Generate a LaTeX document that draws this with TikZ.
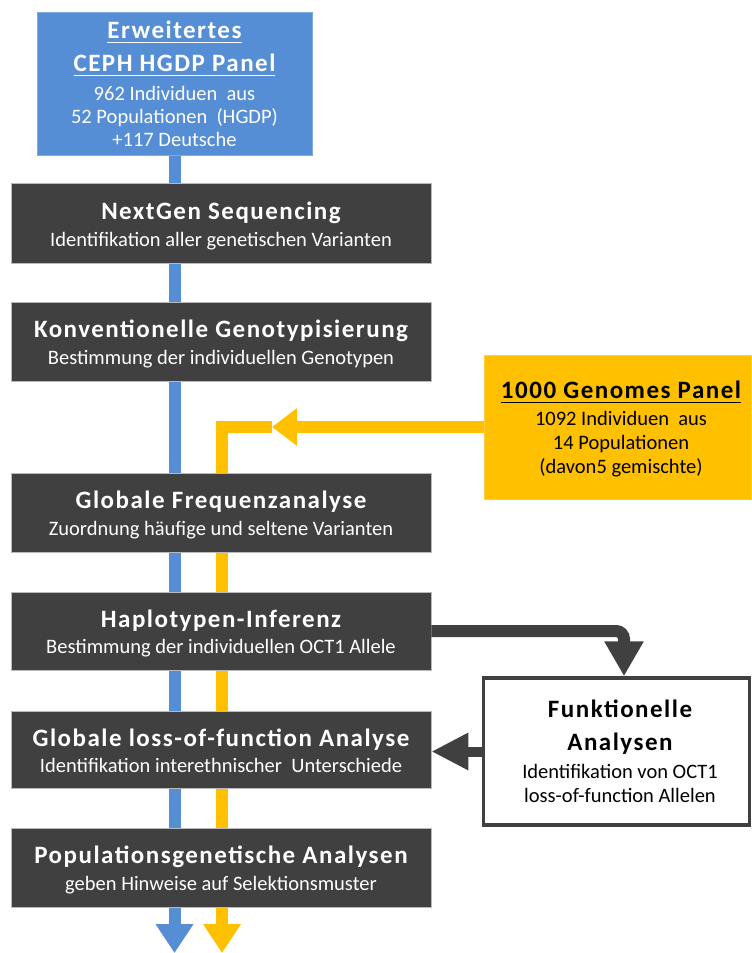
\documentclass[tikz,border=0pt]{standalone}
\usepackage{fontspec}
\setmainfont{Carlito}
\newfontfamily\hdfam{Carlito}[LetterSpace=6]
\usetikzlibrary{arrows.meta,calc}
\pgfdeclarelayer{bg}
\pgfsetlayers{bg,main}
\definecolor{dgrey}{HTML}{404040}
\definecolor{pblue}{HTML}{558ED5}
\definecolor{pyel}{HTML}{FFC000}
\newcommand{\ulx}[1]{\setbox0=\hbox{#1}\rlap{\rule[-5pt]{\wd0}{1.5pt}}\box0}
\tikzset{
  darkbox/.style={draw=gray!55, line width=0.8pt, fill=dgrey, minimum width=420pt, inner sep=0pt},
  bluebox/.style={draw=pblue!75!white, line width=0.8pt, fill=pblue, minimum width=275pt, minimum height=143pt, inner sep=0pt},
  yelbox/.style={draw=pyel!75!white, line width=0.8pt, fill=pyel, minimum width=267pt, minimum height=144pt, inner sep=0pt},
  funkbox/.style={draw=dgrey, line width=3.5pt, fill=white, minimum width=266pt, minimum height=147pt, inner sep=0pt},
  hd/.style={font=\fontsize{25}{27}\hdfam\bfseries, inner sep=0pt, anchor=base},
  sb/.style={font=\fontsize{20.5}{23}\selectfont, inner sep=0pt, anchor=base},
  flow/.style={line width=12pt},
  endtip/.style={-{Triangle[length=29pt,width=36pt]}}
}
\begin{document}
\begin{tikzpicture}[x=1pt,y=-1pt]
\useasboundingbox (0,0) rectangle (752,953);
% boxes
\node[bluebox] (blue) at (174.5,83.5) {};
\node[darkbox, minimum height=80pt] (nextgen) at (221,223) {};
\node[darkbox, minimum height=79pt] (konv) at (221,341.5) {};
\node[yelbox] (ypanel) at (617.5,427) {};
\node[darkbox, minimum height=79pt] (gfreq) at (221,512.5) {};
\node[darkbox, minimum height=78pt] (haplo) at (221,631) {};
\node[darkbox, minimum height=77pt] (gloss) at (221,749.5) {};
\node[funkbox] (funk) at (616.5,751.5) {};
\node[darkbox, minimum height=79pt] (pop) at (221,867.5) {};
% coordinates
\coordinate (bot) at (0,953);
\coordinate (ytip) at (272,427);
\coordinate (ycorner) at (222,427);
\coordinate (ybot) at (222,953);
\coordinate (fk) at ($(funk.north)+(7.5,0)$);
% flow lines behind boxes
\begin{pgfonlayer}{bg}
\draw[pblue, flow, endtip] (blue.south) -- (blue.south |- bot);
\draw[pyel, flow, -{Triangle[length=25pt,width=36pt]}] (ypanel.west) -- (ytip);
\draw[pyel, flow, line join=miter, endtip] (ytip) -- (ycorner) -- (ybot);
\end{pgfonlayer}
% dark connectors
\draw[dgrey, line width=12pt, rounded corners=8pt, -{Triangle[length=35pt,width=37pt]}] (haplo.east) -| (fk);
\draw[dgrey, line width=10pt, -{Triangle[length=37pt,width=35pt]}] (funk.west) -- (funk.west -| gloss.east);
% blue panel text
\node[hd, text=white] (blueA) at (174.5,38) {\ulx{Erweitertes}};
\node[hd, text=white] (blueB) at (174.5,71) {\ulx{CEPH HGDP Panel}};
\node[sb, text=white] (blueC) at (174.5,100) {962 Individuen\ \ aus};
\node[sb, text=white] (blueD) at (174.5,123) {52 Populationen\ \ (HGDP)};
\node[sb, text=white] (blueE) at (174.5,146) {+117 Deutsche};
% yellow panel text
\node[hd] (yelA) at (621,398) {\ulx{1000 Genomes Panel}};
\node[sb] (yelB) at (621,425) {1092 Individuen\ \ aus};
\node[sb] (yelC) at (621,449) {14 Populationen};
\node[sb] (yelD) at (621,473) {(davon5 gemischte)};
% functional box text
\node[hd] (funkA) at (620,717) {Funktionelle};
\node[hd] (funkB) at (620,750) {Analysen};
\node[sb] (funkC) at (620,778) {Identifikation von OCT1};
\node[sb] (funkD) at (620,802) {loss-of-function Allelen};
% dark box texts
\node[hd, text=white, yshift=4pt] (nextgenA) at (nextgen.center) {NextGen Sequencing};
\node[sb, text=white, yshift=-23pt] (nextgenB) at (nextgen.center) {Identifikation aller genetischen Varianten};
\node[hd, text=white, yshift=4pt] (konvA) at (konv.center) {Konventionelle Genotypisierung};
\node[sb, text=white, yshift=-23pt] (konvB) at (konv.center) {Bestimmung der individuellen Genotypen};
\node[hd, text=white, yshift=4pt] (gfreqA) at (gfreq.center) {Globale Frequenzanalyse};
\node[sb, text=white, yshift=-23pt] (gfreqB) at (gfreq.center) {Zuordnung häufige und seltene Varianten};
\node[hd, text=white, yshift=4pt] (haploA) at (haplo.center) {Haplotypen-Inferenz};
\node[sb, text=white, yshift=-22pt] (haploB) at (haplo.center) {Bestimmung der individuellen OCT1 Allele};
\node[hd, text=white, yshift=3pt] (glossA) at (gloss.center) {Globale loss-of-function Analyse};
\node[sb, text=white, yshift=-23pt] (glossB) at (gloss.center) {Identifikation interethnischer\ \ Unterschiede};
\node[hd, text=white, yshift=4pt] (popA) at (pop.center) {Populationsgenetische Analysen};
\node[sb, text=white, yshift=-23pt] (popB) at (pop.center) {geben Hinweise auf Selektionsmuster};
\end{tikzpicture}
\end{document}
